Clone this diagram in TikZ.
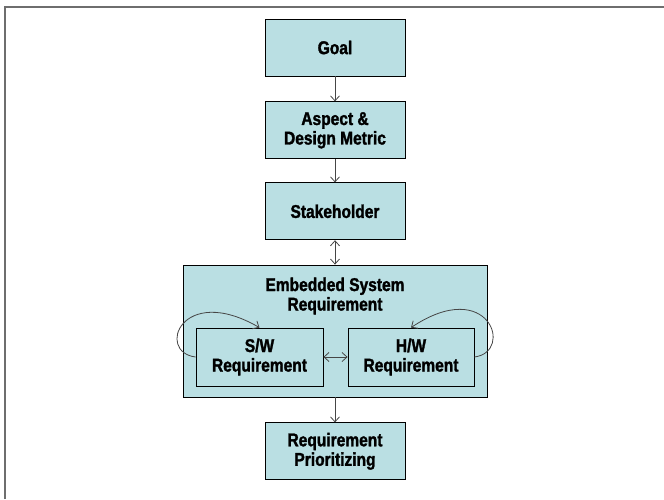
\documentclass[tikz,border=0pt]{standalone}
\usepackage{fontspec}
\setmainfont{Liberation Sans}[FakeStretch=0.84, BoldFeatures={FakeBold=1.6}]
\usetikzlibrary{arrows.meta}
\definecolor{cellblue}{RGB}{186,223,227}
\definecolor{framegray}{RGB}{110,110,110}
\definecolor{arrowgray}{RGB}{70,70,70}

\begin{document}
\begin{tikzpicture}[x=1pt, y=-1pt, >={Straight Barb[length=5pt, width=9pt]},
    box/.style={draw, fill=cellblue, line width=0.8pt, inner sep=0pt, align=center,
      minimum width=140pt, minimum height=57pt,
      font=\bfseries\fontsize{18.5}{19.5}\selectfont},
    link/.style={->, draw=arrowgray, line width=0.8pt}]
  \useasboundingbox (0,0) rectangle (664,499);
  % outer frame (only left and top edges show)
  \draw[framegray, line width=1.6pt] (5,499) -- (5,7) -- (664,7);

  \node[box] (goal)   at (335,47.5)  {Goal};
  \node[box] (aspect) at (335,130.3) {Aspect \&\\Design Metric};
  \node[box] (stake)  at (335,211.3) {Stakeholder};
  \node[box, minimum width=304pt, minimum height=132pt] (esr) at (335,331) {};
  \node[font=\bfseries\fontsize{18.5}{19.5}\selectfont, align=center] (esrtitle) at (335,296)
       {Embedded System\\Requirement};
  \node[box, minimum width=127pt, minimum height=58pt] (sw) at (259.5,357) {S/W\\Requirement};
  \node[box, minimum width=126pt, minimum height=58pt] (hw) at (411,357) {H/W\\Requirement};
  \node[box] (prio)   at (335,451.3) {Requirement\\Prioritizing};

  \draw[link] (goal) -- (aspect);
  \draw[link] (aspect) -- (stake);
  \draw[link, <->] (stake) -- (esr);
  \draw[link] (esr) -- (prio);
  \draw[link, <->] (sw) -- (hw);
  % self loops
  \draw[link] (sw.west) .. controls +(-40,-5) and +(-78,-45) .. (sw.north);
  \draw[link] (hw.east) .. controls +(40,-5) and +(78,-52) .. (hw.north);
\end{tikzpicture}
\end{document}
